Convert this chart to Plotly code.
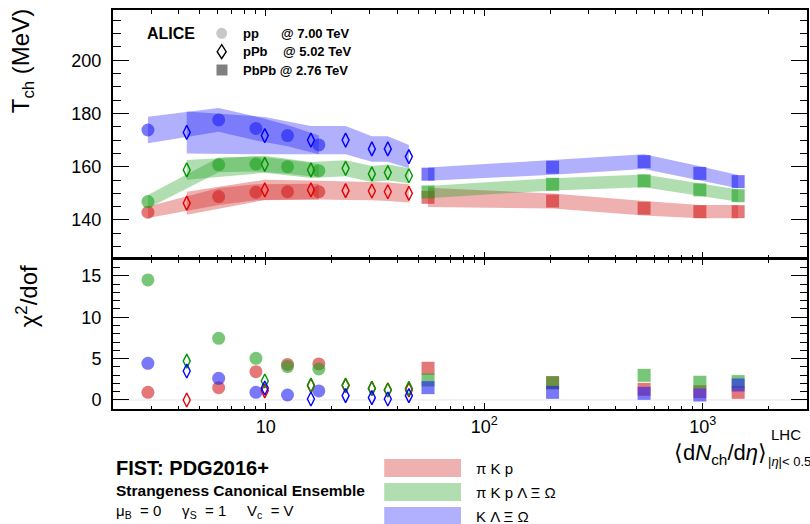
import numpy as np
import plotly.graph_objects as go

# ---------------- data ----------------
# charged-particle multiplicity <dNch/deta> per class
pp_mult = [2.89, 6.09, 9.02, 12.58, 17.5]            # pp @ 7 TeV
ppb_mult = [4.35, 9.9, 16.1, 23.2, 30.6, 36.2, 45.2]  # p-Pb @ 5.02 TeV
pbpb_mult = [55.3, 205.5, 539, 970, 1452]             # Pb-Pb @ 2.76 TeV

# chemical freeze-out temperature (MeV) and its uncertainty, per hadron set
pp_T = {
    "piKp":    [142.9, 148.8, 150.4, 150.6, 150.6],
    "piKpLXO": [146.9, 160.7, 161.0, 160.0, 158.5],
    "KLXO":    [173.8, 177.6, 174.4, 171.7, 168.2],
}
pp_dT = {
    "piKp":    [2.2, 3.2, 3.0, 3.0, 3.0],
    "piKpLXO": [2.5, 2.8, 2.8, 2.6, 2.5],
    "KLXO":    [5.0, 4.5, 4.5, 4.0, 3.5],
}
ppb_T = {
    "piKp":    [146.3, 151.3, 151.3, 151.0, 150.9, 150.6, 150.0],
    "piKpLXO": [158.8, 160.9, 158.8, 159.4, 157.3, 157.8, 156.6],
    "KLXO":    [172.9, 171.7, 170.0, 170.0, 166.7, 166.7, 163.8],
}
ppb_dT = {
    "piKp":    [4.3, 3.8, 3.5, 3.5, 3.5, 3.5, 3.4],
    "piKpLXO": [3.7, 3.2, 3.0, 3.0, 3.0, 3.0, 2.8],
    "KLXO":    [7.9, 7.0, 5.3, 5.3, 4.8, 4.8, 4.4],
}
pbpb_T = {
    "piKp":    [148.5, 147.1, 144.4, 143.1, 143.1],
    "piKpLXO": [150.5, 153.4, 154.7, 151.3, 149.1],
    "KLXO":    [157.2, 159.8, 161.9, 157.5, 154.4],
}
pbpb_dT = {
    "piKp":    [3.6, 2.8, 2.75, 2.5, 2.5],
    "piKpLXO": [2.3, 2.3, 2.4, 2.3, 2.3],
    "KLXO":    [2.5, 2.8, 2.75, 2.7, 2.5],
}

# fit quality chi2/dof
pp_chi2 = {
    "piKp":    [0.93, 1.49, 3.42, 4.3, 4.35],
    "piKpLXO": [14.5, 7.45, 5.03, 4.03, 3.74],
    "KLXO":    [4.43, 2.61, 0.93, 0.6, 1.09],
}
ppb_chi2 = {
    "piKp":    [0.0, 1.1, 1.73, 1.73, 1.4, 1.2, 1.2],
    "piKpLXO": [4.7, 2.3, 1.8, 1.8, 1.4, 1.2, 1.4],
    "KLXO":    [3.5, 1.45, 0.12, 0.52, 0.28, 0.12, 0.52],
}
pbpb_chi2 = {
    "piKp":    [3.83, 2.09, 1.29, 1.0, 0.92],
    "piKpLXO": [2.42, 2.09, 2.98, 2.14, 2.22],
    "KLXO":    [1.49, 0.92, 0.8, 0.6, 1.81],
}

sets = ["piKp", "piKpLXO", "KLXO"]
set_labels = ["\u03c0 K p", "\u03c0 K p \u039b \u039e \u03a9", "K \u039b \u039e \u03a9"]
base_rgb = {"piKp": (210, 30, 30), "piKpLXO": (30, 160, 30), "KLXO": (30, 30, 245)}
line_rgb = {"piKp": "rgb(230,0,0)", "piKpLXO": "rgb(0,150,0)", "KLXO": "rgb(0,0,255)"}


def rgba(c, a):
    return f"rgba({c[0]},{c[1]},{c[2]},{a})"


FONT = "Liberation Sans, Arial, Helvetica, sans-serif"

# ---------------- figure geometry ----------------
W, H = 810, 524
L_M, R_M, T_M, B_M = 113, 1, 10, 115
plot_h = H - T_M - B_M
top_pix_bottom = 258
bot_pix_top = 259
top_dom = [(H - B_M - top_pix_bottom) / plot_h, 1.0]
bot_dom = [0.0, (H - B_M - bot_pix_top) / plot_h]


def px(xpix):
    return (xpix - L_M) / (W - L_M - R_M)


def py(ypix):
    return (H - B_M - ypix) / plot_h


def label(text, x, y, size, xanchor="left", angle=0):
    return dict(text=text, x=px(x), y=py(y), xref="paper", yref="paper",
                xanchor=xanchor, yanchor="middle", textangle=angle, showarrow=False,
                font=dict(size=size, family=FONT, color="black"))


fig = go.Figure()

# ---------------- bands (T_ch) ----------------
systems = [(pp_mult, pp_T, pp_dT), (ppb_mult, ppb_T, ppb_dT), (pbpb_mult, pbpb_T, pbpb_dT)]
for mult, T, dT in systems:
    for s in sets:
        t = np.array(T[s])
        d = np.array(dT[s])
        xs = list(mult) + list(mult)[::-1]
        ys = list(t + d) + list((t - d)[::-1])
        fig.add_trace(go.Scatter(
            x=xs, y=ys, mode="lines", fill="toself",
            fillcolor=rgba(base_rgb[s], 0.35), line=dict(width=0),
            xaxis="x", yaxis="y", hoverinfo="skip", showlegend=False))

# ---------------- markers ----------------
for s in sets:
    for yax, xax, pdata, sdata in [
        ("y", "x", pp_T, pbpb_T),
        ("y2", "x2", pp_chi2, pbpb_chi2),
    ]:
        fig.add_trace(go.Scatter(
            x=pp_mult, y=pdata[s], mode="markers", xaxis=xax, yaxis=yax,
            marker=dict(symbol="circle", size=13, color=rgba(base_rgb[s], 0.6), line=dict(width=0)),
            showlegend=False))
        fig.add_trace(go.Scatter(
            x=pbpb_mult, y=sdata[s], mode="markers", xaxis=xax, yaxis=yax,
            marker=dict(symbol="square", size=13, color=rgba(base_rgb[s], 0.6), line=dict(width=0)),
            showlegend=False))
for s in sets:
    for yax, xax, bdata in [("y", "x", ppb_T), ("y2", "x2", ppb_chi2)]:
        fig.add_trace(go.Scatter(
            x=ppb_mult, y=bdata[s], mode="markers", xaxis=xax, yaxis=yax,
            marker=dict(symbol="diamond-tall-open", size=10, color=line_rgb[s], line=dict(width=1.4)),
            showlegend=False))

# ---------------- axes ----------------
x_major = [10, 100, 1000]
x_major_text = ["10", "10<sup>2</sup>", "10<sup>3</sup>"]
x_minor = [m * 10 ** e for e in range(0, 4) for m in range(2, 10) if 2 <= m * 10 ** e <= 3000]

common_x = dict(
    type="log", range=[np.log10(2), np.log10(3000)], showgrid=False, zeroline=False,
    showline=True, linecolor="black", linewidth=2, mirror="ticks",
    ticks="inside", tickvals=x_major, ticklen=6, tickwidth=1, tickcolor="black",
    minor=dict(tickmode="array", tickvals=x_minor, ticks="inside", ticklen=3.5,
               tickwidth=1, tickcolor="black", showgrid=False),
)
common_y = dict(
    showgrid=False, zeroline=False, showline=True, linecolor="black", linewidth=2,
    mirror="ticks", ticks="inside", ticklen=16, tickwidth=1, tickcolor="black",
    tickfont=dict(family=FONT, size=18, color="black"), ticklabelstandoff=6,
)

fig.update_layout(
    width=W, height=H, margin=dict(l=L_M, r=R_M, t=T_M, b=B_M),
    paper_bgcolor="white", plot_bgcolor="white",
    font=dict(family=FONT, color="black"),
    xaxis=dict(common_x, domain=[0, 1], anchor="y", showticklabels=False),
    yaxis=dict(common_y, domain=top_dom, anchor="x", range=[125.7, 218.9],
               tick0=0, dtick=20,
               minor=dict(dtick=5, ticks="inside", ticklen=7.5, tickwidth=1, tickcolor="black")),
    xaxis2=dict(common_x, domain=[0, 1], anchor="y2", ticktext=x_major_text,
                tickfont=dict(family=FONT, size=18, color="black"), ticklabelstandoff=0),
    yaxis2=dict(common_y, domain=bot_dom, anchor="x2", range=[-1.09, 17.03],
                tick0=0, dtick=5,
                minor=dict(dtick=1, ticks="inside", ticklen=7, tickwidth=1, tickcolor="black")),
    showlegend=False,
)

shapes = []
annotations = []

# zero reference line in the chi2 panel
shapes.append(dict(type="line", xref="x2 domain", yref="y2", x0=0, x1=1, y0=0, y1=0,
                   line=dict(color="rgb(228,228,238)", width=1), layer="below"))

# ---------------- axis titles ----------------
annotations.append(label("T<sub>ch</sub> (MeV)", 22, 61, 24, xanchor="center", angle=-90))
annotations.append(label("\u03c7<sup>2</sup>/dof", 27, 296, 24, xanchor="center", angle=-90))
annotations.append(label("\u27e8d<i>N</i><sub>ch</sub>/d<i>\u03b7</i>\u27e9", 771, 454, 22, xanchor="right"))
annotations.append(label("LHC", 771, 434, 15))
annotations.append(label("|<i>\u03b7</i>|< 0.5", 768, 461, 13))

# ---------------- experiment legend ----------------
annotations.append(label("<b>ALICE</b>", 145, 33, 16))
leg_rows = [("pp", "@ 7.00 TeV", 279, 33.3), ("pPb", "@ 5.02 TeV", 281.5, 51.7)]
for name, energy, ex, yy in leg_rows:
    annotations.append(label(f"<b>{name}</b>", 241, yy, 13))
    annotations.append(label(f"<b>{energy}</b>", ex, yy, 13))
annotations.append(label("<b>PbPb @ 2.76 TeV</b>", 241, 70, 13))

shapes.append(dict(type="circle", xref="paper", yref="paper", xsizemode="pixel", ysizemode="pixel",
                   xanchor=px(222), yanchor=py(33.3), x0=-5.5, x1=5.5, y0=-5.5, y1=5.5,
                   fillcolor="rgb(200,200,200)", line=dict(width=0)))
shapes.append(dict(type="path", xref="paper", yref="paper", xsizemode="pixel", ysizemode="pixel",
                   xanchor=px(222), yanchor=py(51.7), path="M 0 7 L 4.5 0 L 0 -7 L -4.5 0 Z",
                   fillcolor="rgba(0,0,0,0)", line=dict(color="black", width=1.4)))
shapes.append(dict(type="rect", xref="paper", yref="paper", xsizemode="pixel", ysizemode="pixel",
                   xanchor=px(222.3), yanchor=py(70), x0=-5.5, x1=5.5, y0=-5.5, y1=5.5,
                   fillcolor="rgb(128,128,128)", line=dict(width=0)))

# ---------------- model legend ----------------
annotations.append(label("<b>FIST: PDG2016+</b>", 114, 468, 20))
annotations.append(label("<b>Strangeness Canonical Ensemble</b>", 114, 491, 15.5))
annotations.append(label("\u03bc<sub>B</sub>  = 0     \u03b3<sub>S</sub>  = 1     V<sub>c</sub>  = V",
                         114, 511, 15))

box_rows = [459, 483, 507]
for s, lab, top in zip(sets, set_labels, box_rows):
    shapes.append(dict(type="rect", xref="paper", yref="paper", x0=px(385), x1=px(462),
                       y0=py(top), y1=py(top + 18), fillcolor=rgba(base_rgb[s], 0.35),
                       line=dict(width=0)))
    annotations.append(label(lab, 475, top + 9, 15))

fig.update_layout(shapes=shapes, annotations=annotations)
fig.write_html("out.html")
